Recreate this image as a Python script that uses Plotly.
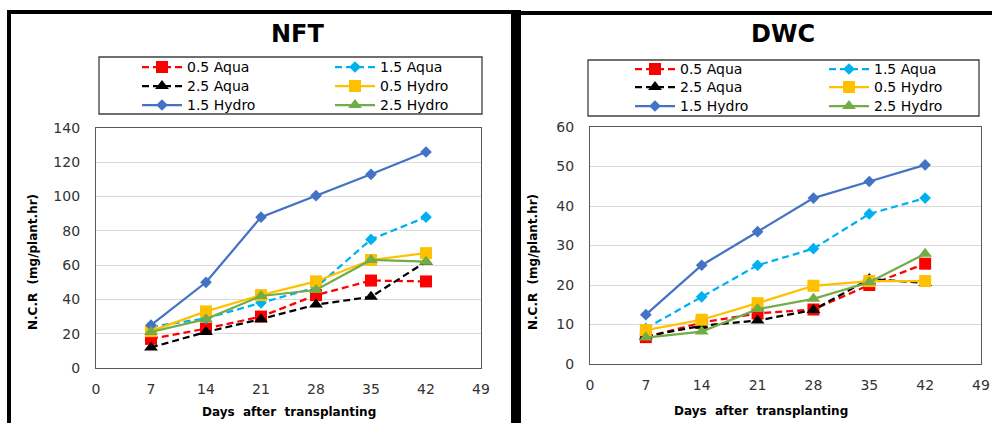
import plotly.graph_objects as go

W, H = 992, 423

# Sampling days (days after transplanting)
days = [7, 14, 21, 28, 35, 42]
series_names = ["0.5 Aqua", "1.5 Aqua", "2.5 Aqua", "0.5 Hydro", "1.5 Hydro", "2.5 Hydro"]

# NFT system, N.C.R (mg/plant.hr)
nft_05_aqua = [17, 23, 30, 42.5, 51, 50.5]
nft_15_aqua = [24, 29, 38, 47, 75, 88]
nft_25_aqua = [12, 21, 28.5, 37, 41.5, 62]
nft_05_hydro = [21.5, 33, 42.5, 50.5, 63, 67]
nft_15_hydro = [25, 50, 88, 100.5, 113, 126]
nft_25_hydro = [21, 28.5, 42, 45.5, 63, 62]

# DWC system, N.C.R (mg/plant.hr)
dwc_05_aqua = [6.8, 10.5, 12.8, 13.8, 20, 25.4]
dwc_15_aqua = [9, 17, 25, 29.2, 38, 42]
dwc_25_aqua = [7, 9.7, 11, 13.7, 21.5, 20.5]
dwc_05_hydro = [8.6, 11.2, 15.4, 19.8, 21, 21]
dwc_15_hydro = [12.5, 25, 33.5, 42, 46.2, 50.4]
dwc_25_hydro = [6.7, 8.2, 13.9, 16.5, 20.7, 27.9]

x_ticks = [0, 7, 14, 21, 28, 35, 42, 49]

nft_values = [nft_05_aqua, nft_15_aqua, nft_25_aqua, nft_05_hydro, nft_15_hydro, nft_25_hydro]
dwc_values = [dwc_05_aqua, dwc_15_aqua, dwc_25_aqua, dwc_05_hydro, dwc_15_hydro, dwc_25_hydro]

colors = ["#FF0000", "#00B0F0", "#000000", "#FFC000", "#4472C4", "#70AD47"]
dashes = ["7px,4px", "7px,4px", "7px,4px", "solid", "solid", "solid"]
symbols = ["square", "diamond", "triangle-up", "square", "diamond", "triangle-up"]
msizes = [12, 9, 12, 12, 9, 12]

FONT = "DejaVu Sans"
TICK_COLOR = "#333333"


def px(x):
    """pixel column -> paper fraction"""
    return x / W


def py(y):
    """pixel row -> paper fraction"""
    return 1 - y / H


fig = go.Figure()

panels = [
    dict(name="NFT", values=nft_values, xa="x", ya="y",
         dom_x=(96, 481), dom_y=(128, 368), yrange=140, ydtick=20,
         title_xy=(297, 33.5), ytitle_xy=(33, 262), xtitle_xy=(289, 412),
         legend_cols=(187, 380), legend_rows=(67, 86, 105),
         legend_box=(99, 57, 482, 114), legend_base=1),
    dict(name="DWC", values=dwc_values, xa="x2", ya="y2",
         dom_x=(590, 981), dom_y=(127, 364), yrange=60, ydtick=10,
         title_xy=(783, 33.5), ytitle_xy=(533, 262), xtitle_xy=(761, 411),
         legend_cols=(680, 874), legend_rows=(69, 87, 106),
         legend_box=(588, 60, 979, 116), legend_base=7),
]

shapes = []
annotations = []
layout_legends = {}

for p in panels:
    for i, (name, vals) in enumerate(zip(series_names, p["values"])):
        leg_idx = p["legend_base"] + i
        leg_key = "legend" if leg_idx == 1 else f"legend{leg_idx}"
        fig.add_trace(go.Scatter(
            x=days, y=vals, name=name, mode="lines+markers",
            xaxis=p["xa"], yaxis=p["ya"],
            line=dict(color=colors[i], width=2.25, dash=dashes[i]),
            marker=dict(symbol=symbols[i], size=msizes[i], color=colors[i],
                        line=dict(width=0)),
            legend=leg_key, showlegend=True, hoverinfo="x+y+name",
        ))
        row, col = i // 2, i % 2
        tx = p["legend_cols"][col]
        ty = p["legend_rows"][row]
        layout_legends[leg_key] = dict(
            x=px(tx - 50), y=py(ty - 15.6), xanchor="left", yanchor="top",
            xref="paper", yref="paper", orientation="v",
            bgcolor="rgba(0,0,0,0)", borderwidth=0, itemwidth=40,
            font=dict(family=FONT, size=14, color="#000000"),
        )

    # legend frame
    x0, y0, x1, y1 = p["legend_box"]
    shapes.append(dict(type="rect", xref="paper", yref="paper",
                       x0=px(x0), x1=px(x1), y0=py(y0), y1=py(y1),
                       line=dict(color="#404040", width=1.3), fillcolor="rgba(0,0,0,0)",
                       layer="below"))

    # panel title
    annotations.append(dict(text=f"<b>{p['name']}</b>", x=px(p["title_xy"][0]), y=py(p["title_xy"][1]),
                            xref="paper", yref="paper", showarrow=False,
                            xanchor="center", yanchor="middle",
                            font=dict(family=FONT, size=24, color="#000000")))
    # axis titles
    annotations.append(dict(text="<b>N.C.R  (mg/plant.hr)</b>", x=px(p["ytitle_xy"][0]), y=py(p["ytitle_xy"][1]),
                            xref="paper", yref="paper", showarrow=False, textangle=-90,
                            xanchor="center", yanchor="middle",
                            font=dict(family=FONT, size=12, color="#000000")))
    annotations.append(dict(text="<b>Days  after  transplanting</b>", x=px(p["xtitle_xy"][0]), y=py(p["xtitle_xy"][1]),
                            xref="paper", yref="paper", showarrow=False,
                            xanchor="center", yanchor="middle",
                            font=dict(family=FONT, size=12, color="#000000")))

# outer black frame around the two panels
frame = [
    (7, 10, 521, 14),     # top edge, NFT panel
    (511, 11, 992, 15),   # top edge, DWC panel
    (7, 10, 11, 423),     # left edge
    (511, 10, 521, 423),  # divider between panels
]
for x0, y0, x1, y1 in frame:
    shapes.append(dict(type="rect", xref="paper", yref="paper",
                       x0=px(x0), x1=px(x1), y0=py(y0), y1=py(y1),
                       line=dict(width=0), fillcolor="#000000", layer="above"))

axis_common = dict(showline=True, linecolor="#595959", linewidth=1.3, mirror=True,
                   ticks="", zeroline=False, automargin=False,
                   tickfont=dict(family=FONT, size=14, color=TICK_COLOR))

layout_axes = {}
for k, p in enumerate(panels):
    sx = "" if k == 0 else "2"
    layout_axes[f"xaxis{sx}"] = dict(
        axis_common, domain=[px(p["dom_x"][0]), px(p["dom_x"][1])],
        range=[0, 49], tickvals=x_ticks, showgrid=False,
        anchor=p["ya"], ticklabelstandoff=8)
    layout_axes[f"yaxis{sx}"] = dict(
        axis_common, domain=[py(p["dom_y"][1]), py(p["dom_y"][0])],
        range=[0, p["yrange"]], dtick=p["ydtick"], showgrid=True,
        gridcolor="#D9D9D9", gridwidth=1, anchor=p["xa"], ticklabelstandoff=12)

fig.update_layout(
    width=W, height=H, margin=dict(l=0, r=0, t=0, b=0, autoexpand=False),
    paper_bgcolor="#FFFFFF", plot_bgcolor="#FFFFFF", showlegend=True,
    shapes=shapes, annotations=annotations,
    **layout_axes, **layout_legends,
)

fig.write_html("out.html")
